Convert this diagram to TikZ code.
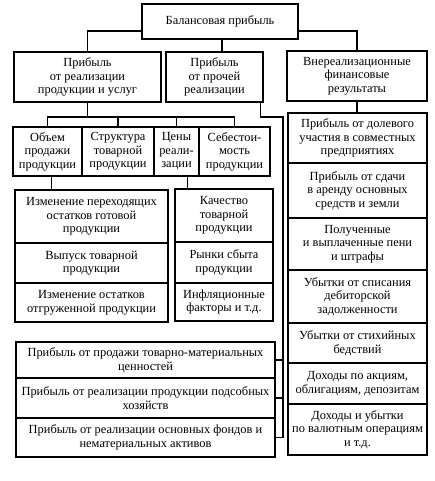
\documentclass[tikz,border=0pt]{standalone}
\usepackage{fontspec}
\setmainfont{Liberation Serif}
\begin{document}
\begin{tikzpicture}[x=1pt,y=-1pt,
  bx/.style={draw, line width=1.3pt, inner sep=0pt, align=center,
    font=\fontsize{12.4}{13.6}\selectfont},
  ln/.style={line width=1.3pt}]
\useasboundingbox (0,0) rectangle (434,481);
% top
\node[bx, minimum width=156, minimum height=35] (top) at (220,21.5) {Балансовая прибыль};
% second row
\node[bx, minimum width=147, minimum height=50] (L1) at (87.5,77) {Прибыль\\от реализации\\продукции и услуг};
\node[bx, minimum width=97, minimum height=50] (M1) at (214.5,77) {Прибыль\\от прочей\\реализации};
\node[bx, minimum width=140, minimum height=50] (R1) at (357,76) {Внереализационные\\финансовые\\результаты};
% four boxes
\node[bx, minimum width=69, minimum height=49] (A) at (47.5,151.5) {Объем\\продажи\\продукции};
\node[bx, minimum width=72, minimum height=49] (B) at (118,151.5) {Структура\\товарной\\продукции};
\node[bx, minimum width=45, minimum height=49] (C) at (176.5,151.5) {Цены\\реали-\\зации};
\node[bx, minimum width=71, minimum height=49] (D) at (234.5,151.5) {Себестои-\\мость\\продукции};
% left stack
\node[bx, minimum width=153, minimum height=53] (S1) at (91.5,216.5) {Изменение переходящих\\остатков готовой\\продукции};
\node[bx, minimum width=153, minimum height=40] (S2) at (91.5,263) {Выпуск товарной\\продукции};
\node[bx, minimum width=153, minimum height=39] (S3) at (91.5,302.5) {Изменение остатков\\отгруженной продукции};
% right-middle stack
\node[bx, minimum width=98, minimum height=53] (T1) at (224,215.5) {Качество\\товарной\\продукции};
\node[bx, minimum width=98, minimum height=41] (T2) at (224,262.5) {Рынки сбыта\\продукции};
\node[bx, minimum width=98, minimum height=38] (T3) at (224,302) {Инфляционные\\факторы и т.д.};
% right column
\node[bx, minimum width=139, minimum height=50] (Q1) at (357.5,138) {Прибыль от долевого\\участия в совместных\\предприятиях};
\node[bx, minimum width=139, minimum height=55] (Q2) at (357.5,190.5) {Прибыль от сдачи\\в аренду основных\\средств и земли};
\node[bx, minimum width=139, minimum height=52] (Q3) at (357.5,244) {Полученные\\и выплаченные пени\\и штрафы};
\node[bx, minimum width=139, minimum height=53] (Q4) at (357.5,296.5) {Убытки от списания\\дебиторской\\задолженности};
\node[bx, minimum width=139, minimum height=40] (Q5) at (357.5,343) {Убытки от стихийных\\бедствий};
\node[bx, minimum width=139, minimum height=41] (Q6) at (357.5,383.5) {Доходы по акциям,\\облигациям, депозитам};
\node[bx, minimum width=139, minimum height=51] (Q7) at (357.5,429.5) {Доходы и убытки\\по валютным операциям\\и т.д.};
% bottom stack
\node[bx, minimum width=259, minimum height=36] (P1) at (145.5,360) {Прибыль от продажи товарно-материальных\\ценностей};
\node[bx, minimum width=259, minimum height=40] (P2) at (145.5,398) {Прибыль от реализации продукции подсобных\\хозяйств};
\node[bx, minimum width=259, minimum height=39] (P3) at (145.5,437.5) {Прибыль от реализации основных фондов и\\нематериальных активов};
% connectors from top
\draw[ln] ([yshift=-9.5pt]top.west) -| (L1.north);
\draw[ln] ([yshift=-9.5pt]top.east) -| (R1.north);
\draw[ln] ([xshift=2pt]top.south) -- ([xshift=2pt]top.south |- M1.north);
% L1 bus
\coordinate (lbus) at (87.5,117);
\draw[ln] (L1.south) -- (lbus);
\draw[ln] (A.north) |- (lbus) -| (D.north);
\draw[ln] (B.north) -- (B.north |- lbus);
\draw[ln] (C.north) -- (C.north |- lbus);
% A -> S1, C -> T1
\draw[ln] ([xshift=4pt]A.south) -- ([xshift=4pt]A.south |- S1.north);
\draw[ln] ([xshift=11pt]C.south) -- ([xshift=11pt]C.south |- T1.north);
% R1 -> Q1
\draw[ln] (R1.south) -- (R1.south |- Q1.north);
% M1 -> P stack
\coordinate (mbus) at (283,117);
\draw[ln] ([xshift=-3pt]M1.south east) |- (mbus) |- (P3.east);
\draw[ln] (P1.east) -- (P1.east -| mbus);
\draw[ln] (P2.east) -- (P2.east -| mbus);
\end{tikzpicture}
\end{document}
